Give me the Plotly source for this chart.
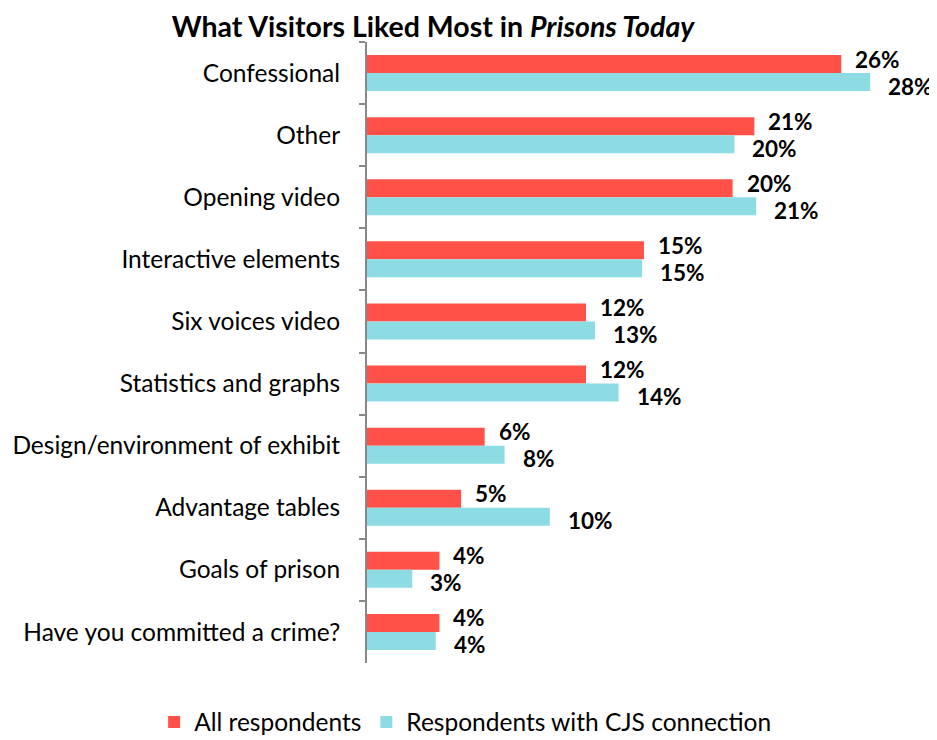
import plotly.graph_objects as go

categories = ["Confessional", "Other", "Opening video", "Interactive elements",
              "Six voices video", "Statistics and graphs",
              "Design/environment of exhibit", "Advantage tables",
              "Goals of prison", "Have you committed a crime?"]
all_resp = [26.2, 21.4, 20.2, 15.3, 12.1, 12.1, 6.5, 5.2, 4.0, 4.0]
all_labels = ["26%", "21%", "20%", "15%", "12%", "12%", "6%", "5%", "4%", "4%"]
cjs_resp = [27.8, 20.3, 21.5, 15.2, 12.6, 13.9, 7.6, 10.1, 2.5, 3.8]
cjs_labels = ["28%", "20%", "21%", "15%", "13%", "14%", "8%", "10%", "3%", "4%"]

RED = "#FF5147"
CYAN = "#8DDCE4"
FONT = "Lato"

# page body has an 8px margin; figure is sized to fit the window
W, H = 929, 732

fig = go.Figure()
fig.add_trace(go.Bar(y=categories, x=all_resp, orientation="h", name="All respondents",
                     marker=dict(color=RED, line=dict(width=0))))
fig.add_trace(go.Bar(y=categories, x=cjs_resp, orientation="h",
                     name="Respondents with CJS connection",
                     marker=dict(color=CYAN, line=dict(width=0))))

annotations = []
for cat, v, lab in zip(categories, all_resp, all_labels):
    annotations.append(dict(x=v, y=cat, xref="x", yref="y", text="<b>%s</b>" % lab,
                            showarrow=False, xanchor="left", yanchor="middle",
                            xshift=12, yshift=14,
                            font=dict(family=FONT, size=22.5, color="black")))
for cat, v, lab in zip(categories, cjs_resp, cjs_labels):
    annotations.append(dict(x=v, y=cat, xref="x", yref="y", text="<b>%s</b>" % lab,
                            showarrow=False, xanchor="left", yanchor="middle",
                            xshift=16, yshift=-13,
                            font=dict(family=FONT, size=22.5, color="black")))

fig.update_layout(
    width=W, height=H,
    paper_bgcolor="white", plot_bgcolor="white",
    barmode="group", bargap=0.42, bargroupgap=0,
    margin=dict(l=359, r=27, t=34, b=77, autoexpand=False),
    font=dict(family=FONT, size=24.5, color="black"),
    title=dict(text="<b>What Visitors Liked Most in <i>Prisons Today</i></b>",
               x=425/W, xanchor="center", xref="container",
               y=1 - 19/H, yanchor="middle", yref="container",
               font=dict(family=FONT, size=28.5, color="black")),
    showlegend=True,
    legend=dict(orientation="h", xref="paper", yref="paper",
                x=-0.392, xanchor="left", y=-0.095, yanchor="middle",
                font=dict(family=FONT, size=24.5, color="black"),
                tracegroupgap=0),
    annotations=annotations,
)
fig.update_xaxes(range=[0, 30], visible=False, showgrid=False, zeroline=False)
fig.update_yaxes(autorange="reversed", type="category", showline=True,
                 linecolor="#888888", linewidth=2, ticks="outside",
                 tickson="boundaries", ticklen=6, tickcolor="#888888", tickwidth=2,
                 ticklabelstandoff=20, showgrid=False, automargin=False,
                 tickfont=dict(family=FONT, size=24.5, color="black"))

fig.write_html("out.html")
